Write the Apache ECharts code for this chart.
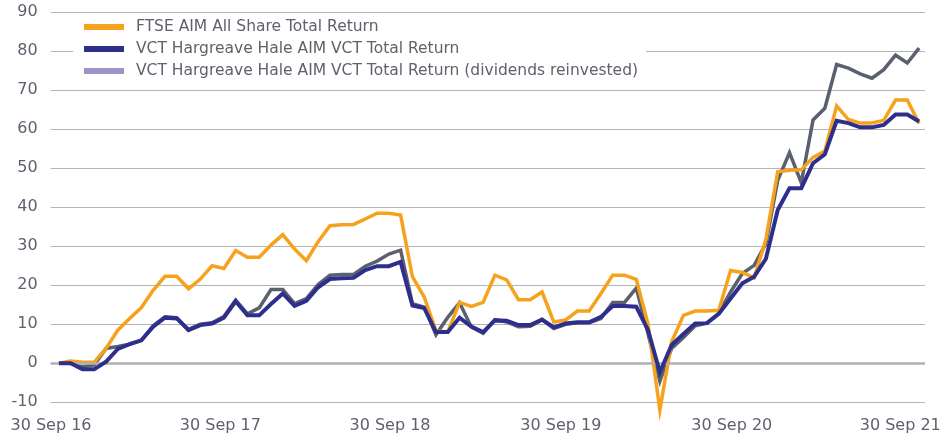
<!DOCTYPE html>
<html>
<head>
<meta charset="utf-8">
<script src="https://cdn.jsdelivr.net/npm/echarts@6/dist/echarts.min.js"></script>
<style>
html,body{margin:0;padding:0;background:#fff;}
#chart{width:945px;height:435px;}
</style>
</head>
<body>
<div id="chart"></div>
<script>
// Series names
var seriesNames = [
  'FTSE AIM All Share Total Return',
  'VCT Hargreave Hale AIM VCT Total Return',
  'VCT Hargreave Hale AIM VCT Total Return (dividends reinvested)'
];

var ftseAim = [0,0.6,0.3,0.3,3.8,8.5,11.5,14.3,18.7,22.3,22.3,19.1,21.6,25,24.3,28.9,27.2,27.2,30.3,33,
  29.3,26.3,31.2,35.3,35.5,35.6,37,38.5,38.5,38,22.2,17,8.3,8,15.6,14.6,15.6,22.6,21.4,16.3,
  16.3,18.3,10.6,11.1,13.4,13.4,17.9,22.6,22.6,21.5,10,-12,5.5,12.3,13.4,13.4,13.6,23.8,23.3,21.9,
  31.8,49.1,49.5,49.6,52.8,54.4,66,62.5,61.6,61.6,62.3,67.5,67.5,61.5];

var vctTotal = [0,0,-1.5,-1.5,0.4,3.7,4.9,5.9,9.4,11.7,11.5,8.5,9.8,10.2,11.7,15.9,12.3,12.3,15.2,17.9,
  14.7,16,19.5,21.6,21.8,21.9,23.9,24.9,24.9,26,14.8,14.2,8,8,11.7,9.4,8,11,10.9,9.8,
  9.8,11.2,9.2,10.2,10.5,10.5,11.9,14.7,14.7,14.5,8.5,-2.3,4.7,7.5,10.2,10.3,12.7,16.6,20.5,22.2,
  26.8,39.3,44.9,44.9,51.3,53.6,62.2,61.6,60.5,60.5,61.1,63.8,63.8,62];

var vctReinvested = [0,0,-0.9,-0.4,3.8,4.3,4.9,5.9,9.6,11.9,11.7,8.7,10,10.4,12,16.2,12.7,14.2,18.9,18.9,
  15.3,16.6,20.2,22.6,22.8,22.8,24.9,26.2,28,29,15.3,14.4,7.3,11.8,15.5,9.3,7.7,11.2,10.6,9.4,
  9.5,11.2,8.9,10,10.4,10.4,11.5,15.6,15.6,19.3,7.5,-4.6,3.8,6.6,9.6,10.3,12.8,18.3,23,25.1,
  30.7,46.9,54,46.3,62.4,65.4,76.6,75.7,74.2,73.1,75.3,79,77,80.8];

// X tick labels and where they fall on the observation index scale
var xTickLabels = ['30 Sep 16','30 Sep 17','30 Sep 18','30 Sep 19','30 Sep 20','30 Sep 21'];
var xTickPositions = [-0.67, 13.7, 28.1, 42.6, 57.1, 71.4];

// Y ticks
var yMin = -10, yMax = 90, yStep = 10;

function pairs(arr){ return arr.map(function(v,i){ return [i, v]; }); }

var textColor = '#5e626d';
var fontFamily = 'DejaVu Sans';

var chart = echarts.init(document.getElementById('chart'), null, {renderer:'canvas'});
chart.setOption({
  animation: false,
  backgroundColor: '#ffffff',
  textStyle: { fontFamily: fontFamily },
  grid: { left: 50.65, right: 20, top: 12.3, bottom: 32.7, containLabel: false },
  xAxis: {
    type: 'value',
    min: -0.7,
    max: ftseAim.length - 0.5,
    axisLine: { show: false },
    axisTick: { show: false },
    splitLine: { show: false },
    axisLabel: {
      customValues: xTickPositions,
      margin: 16,
      fontSize: 16,
      color: textColor,
      fontFamily: fontFamily,
      formatter: function(v){
        var best = 0, d = Infinity;
        for (var k = 0; k < xTickPositions.length; k++) {
          var dd = Math.abs(xTickPositions[k] - v);
          if (dd < d) { d = dd; best = k; }
        }
        return xTickLabels[best];
      }
    }
  },
  yAxis: {
    type: 'value',
    min: yMin, max: yMax, interval: yStep,
    axisLine: { show: false },
    axisTick: { show: false },
    axisLabel: { fontSize: 16, color: textColor, margin: 13, fontFamily: fontFamily },
    splitLine: { show: true, lineStyle: { color: '#b4b4b4', width: 1 } }
  },
  legend: {
    orient: 'vertical',
    left: 73, top: 15,
    padding: [3, 8, 3, 11],
    backgroundColor: '#ffffff',
    itemWidth: 40, itemHeight: 6, itemGap: 4,
    icon: 'rect',
    textStyle: { fontSize: 15.5, color: textColor, lineHeight: 18, padding: [0,0,0,7], fontFamily: fontFamily },
    data: [
      { name: seriesNames[0], itemStyle: { color: '#f6a21c' } },
      { name: seriesNames[1], itemStyle: { color: '#2e2f8c' } },
      { name: seriesNames[2], itemStyle: { color: '#9b94c8' } }
    ]
  },
  series: [
    {
      name: 'zero', type: 'line', data: [], z: 1, silent: true,
      markLine: {
        silent: true, symbol: 'none', label: { show: false },
        lineStyle: { color: '#b0b0b0', width: 2.5, type: 'solid' },
        data: [{ yAxis: 0 }]
      }
    },
    {
      name: seriesNames[2], type: 'line', data: pairs(vctReinvested), z: 3, clip: false,
      showSymbol: false, symbol: 'none', color: '#5b6070',
      lineStyle: { color: '#5b6070', width: 3.5, join: 'miter', miterLimit: 10 }
    },
    {
      name: seriesNames[0], type: 'line', data: pairs(ftseAim), z: 4, clip: false,
      showSymbol: false, symbol: 'none', color: '#f6a21c',
      lineStyle: { color: '#f6a21c', width: 3.5, join: 'miter', miterLimit: 10 }
    },
    {
      name: seriesNames[1], type: 'line', data: pairs(vctTotal), z: 5, clip: false,
      showSymbol: false, symbol: 'none', color: '#2e2f8c',
      lineStyle: { color: '#2e2f8c', width: 4, join: 'miter', miterLimit: 10 }
    }
  ]
});
</script>
</body>
</html>
